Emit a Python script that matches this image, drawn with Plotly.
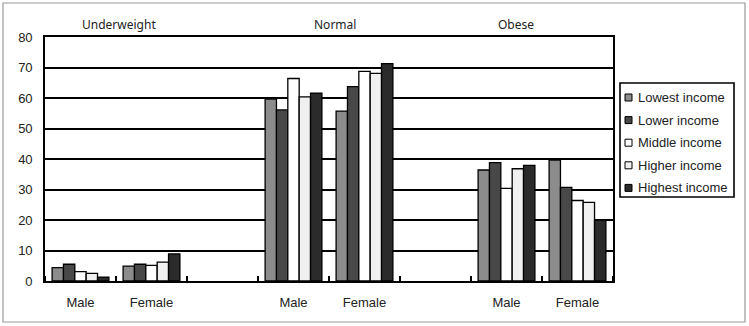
import plotly.graph_objects as go

groups = ["Underweight", "Normal", "Obese"]
sexes = ["Male", "Female"]
series_names = ["Lowest income", "Lower income", "Middle income", "Higher income", "Highest income"]
# values ordered: UW-Male, UW-Female, N-Male, N-Female, O-Male, O-Female
lowest = [4.4, 4.9, 59.6, 55.7, 36.4, 39.6]
lower = [5.5, 5.5, 56.1, 63.7, 38.8, 30.7]
middle = [3.1, 5.1, 66.4, 68.7, 30.4, 26.4]
higher = [2.5, 6.2, 60.4, 68.1, 36.8, 25.8]
highest = [1.3, 8.9, 61.6, 71.3, 37.9, 20.0]
y_ticks = [0, 10, 20, 30, 40, 50, 60, 70, 80]

series_values = [lowest, lower, middle, higher, highest]
colors = ["#8c8c8c", "#484848", "#ffffff", "#f0f0f0", "#2b2b2b"]

xpos = [g * 3 + s for g in range(len(groups)) for s in range(len(sexes))]
xlabels = [s for g in groups for s in sexes]

fig = go.Figure()
for name, vals, col in zip(series_names, series_values, colors):
    fig.add_trace(go.Bar(
        x=xpos, y=vals, name=name,
        marker=dict(color=col, line=dict(color="black", width=1.3)),
    ))

L, R, T, B = 45, 136, 37, 45
W, H = 749, 326
pw, ph = W - L - R, H - T - B


def px_x(p):
    return (p - L) / pw


def px_y(p):
    return 1 - (p - T) / ph


fig.update_layout(
    width=W, height=H,
    margin=dict(l=L, r=R, t=T, b=B, pad=0, autoexpand=False),
    paper_bgcolor="white", plot_bgcolor="white",
    barmode="group", bargap=0.2, bargroupgap=0,
    font=dict(family="Liberation Sans, Arial, sans-serif", size=13, color="#222"),
    showlegend=False,
    xaxis=dict(
        range=[-0.5, 7.5], tickmode="array", tickvals=xpos, ticktext=xlabels,
        ticks="", showgrid=False, zeroline=False,
        showline=True, linecolor="black", linewidth=1.6, mirror=True,
        minor=dict(tickmode="linear", tick0=0.5, dtick=1, ticks="inside",
                   ticklen=5, tickwidth=1.5, tickcolor="black", showgrid=False),
        ticklabelstandoff=9, tickfont=dict(size=13),
    ),
    yaxis=dict(
        range=[0, 80], tickmode="array", tickvals=y_ticks,
        showgrid=True, gridcolor="black", gridwidth=1.6,
        zeroline=False, showline=True, linecolor="black", linewidth=1.6, mirror=True,
        ticks="", ticklabelstandoff=8, tickfont=dict(size=13),
    ),
)

label_pos = [0.54, 3.59, 6.14]
for g, xp in zip(groups, label_pos):
    fig.add_annotation(x=xp, y=px_y(25), xref="x", yref="paper", text=g,
                       showarrow=False, font=dict(family="Noto Sans, sans-serif", size=12, color="#222"),
                       xanchor="center", yanchor="middle")

# outer frame
fig.add_shape(type="rect", xref="paper", yref="paper",
              x0=px_x(3), x1=px_x(745), y0=px_y(322), y1=px_y(3),
              line=dict(color="#999", width=1.2), fillcolor="rgba(0,0,0,0)", layer="below")

# legend (drawn as shapes + text)
fig.add_shape(type="rect", xref="paper", yref="paper",
              x0=px_x(620), x1=px_x(734), y0=px_y(197), y1=px_y(83),
              line=dict(color="black", width=1.6), fillcolor="white")
for i, (name, col) in enumerate(zip(series_names, colors)):
    cy = 97.5 + i * 22.6
    fig.add_shape(type="rect", xref="paper", yref="paper",
                  x0=px_x(625), x1=px_x(632), y0=px_y(cy + 3.5), y1=px_y(cy - 3.5),
                  line=dict(color="black", width=1), fillcolor=col)
    fig.add_annotation(x=px_x(636), y=px_y(cy), xref="paper", yref="paper", text=name,
                       showarrow=False, xanchor="left", yanchor="middle",
                       font=dict(size=13, color="#222"))

fig.write_html("out.html")
